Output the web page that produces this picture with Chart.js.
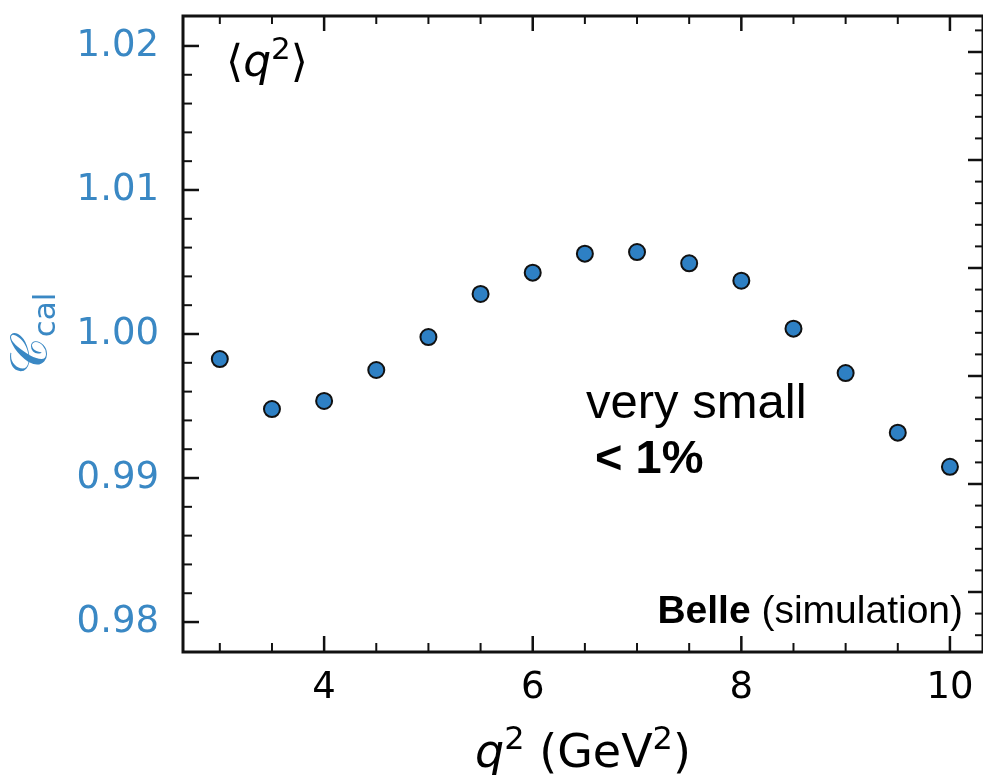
<!DOCTYPE html>
<html>
<head>
<meta charset="utf-8">
<script src="https://cdn.jsdelivr.net/npm/chart.js@4"></script>
<style>
  html, body { margin: 0; padding: 0; background: #fff; }
  #chart { display: block; }
</style>
</head>
<body>
<canvas id="chart" width="983" height="775"></canvas>
<script>
// q^2 bin centres and calibration factor
const q2Values = [3, 3.5, 4, 4.5, 5, 5.5, 6, 6.5, 7, 7.5, 8, 8.5, 9, 9.5, 10];
const cCalValues = [0.99826, 0.99479, 0.99535, 0.99750, 0.99979, 1.00278, 1.00426, 1.00558,
                    1.00569, 1.00491, 1.00370, 1.00037, 0.99729, 0.99315, 0.99078];

const xTicks = [4, 6, 8, 10];
const xTickLabels = ['4', '6', '8', '10'];
const xMinorTicks = [3, 3.5, 4.5, 5, 5.5, 6.5, 7, 7.5, 8.5, 9, 9.5];
const yTicks = [0.98, 0.99, 1.00, 1.01, 1.02];
const yTickLabels = ['0.98', '0.99', '1.00', '1.01', '1.02'];
// right-hand twin axis (its labels are cut off by the frame edge)
const y2Ticks = [0, 1, 2, 3, 4, 5];

const blueText = '#3a88c4';
const markerBlue = '#2e80c4';
const ink = '#111';

// inward ticks on all four sides + the box frame
const frameAndTicks = {
  id: 'frameAndTicks',
  beforeDatasetsDraw(chart) {
    const { ctx, chartArea: a, scales } = chart;
    ctx.save();
    ctx.strokeStyle = ink;
    const seg = (x1, y1, x2, y2, w) => {
      ctx.lineWidth = w;
      ctx.beginPath();
      ctx.moveTo(x1, y1);
      ctx.lineTo(x2, y2);
      ctx.stroke();
    };

    xTicks.forEach(v => {
      const px = scales.x.getPixelForValue(v);
      seg(px, a.bottom, px, a.bottom - 16, 2.5);
      seg(px, a.top, px, a.top + 15, 2.5);
    });
    xMinorTicks.forEach(v => {
      const px = scales.x.getPixelForValue(v);
      seg(px, a.bottom, px, a.bottom - 9, 2);
      seg(px, a.top, px, a.top + 8, 2);
    });

    yTicks.forEach(v => {
      const py = scales.y.getPixelForValue(v);
      seg(a.left, py, a.left + 16, py, 2.5);
    });
    for (let v = 0.978; v < 1.0225; v += 0.002) {
      const r = Math.round(v * 1000) / 1000;
      if (yTicks.some(t => Math.abs(t - r) < 1e-6)) continue;
      const py = scales.y.getPixelForValue(r);
      if (py > a.bottom - 2 || py < a.top + 2) continue;
      seg(a.left, py, a.left + 9, py, 2);
    }

    y2Ticks.forEach(v => {
      const py = scales.y2.getPixelForValue(v);
      seg(a.right, py, a.right - 15, py, 2.5);
    });
    for (let v = -0.4; v < 5.34; v += 0.2) {
      const r = Math.round(v * 10) / 10;
      if (y2Ticks.some(t => Math.abs(t - r) < 1e-6)) continue;
      const py = scales.y2.getPixelForValue(r);
      if (py > a.bottom - 2 || py < a.top + 2) continue;
      seg(a.right, py, a.right - 8, py, 2);
    }

    ctx.lineWidth = 3;
    ctx.strokeRect(a.left, a.top, a.right - a.left, a.bottom - a.top);
    ctx.restore();
  }
};

// axis titles and the text notes
const textNotes = {
  id: 'textNotes',
  afterDraw(chart) {
    const { ctx, chartArea: a } = chart;
    ctx.save();
    ctx.textBaseline = 'alphabetic';
    ctx.textAlign = 'left';

    // runs of [text, font, dy]
    const drawRuns = (runs, x, y) => {
      let cx = x;
      runs.forEach(([t, f, dy]) => {
        ctx.font = f;
        ctx.fillText(t, cx, y + (dy || 0));
        cx += ctx.measureText(t).width;
      });
    };
    const runsWidth = runs => runs.reduce((w, [t, f]) => { ctx.font = f; return w + ctx.measureText(t).width; }, 0);

    // x-axis title
    ctx.fillStyle = '#000';
    const xRuns = [
      ['q', 'italic 46px "DejaVu Sans"', 0],
      ['2', '32px "DejaVu Sans"', -18],
      [' (GeV', '46px "DejaVu Sans"', 0],
      ['2', '32px "DejaVu Sans"', -18],
      [')', '46px "DejaVu Sans"', 0]
    ];
    const xw = runsWidth(xRuns);
    drawRuns(xRuns, (a.left + a.right) / 2 - xw / 2, 767);

    // y-axis title, rotated
    ctx.save();
    ctx.translate(47, (a.top + a.bottom) / 2);
    ctx.rotate(-Math.PI / 2);
    ctx.fillStyle = blueText;
    const yRuns = [
      ['\u{1D49E}', '52px "DejaVu Sans"', 0],
      ['cal', '31px "DejaVu Sans"', 8]
    ];
    drawRuns(yRuns, -runsWidth(yRuns) / 2, 0);
    ctx.restore();

    // <q^2> label
    ctx.fillStyle = '#000';
    drawRuns([
      ['\u27E8', '44px "DejaVu Sans"', 0],
      ['q', 'italic 44px "DejaVu Sans"', 0],
      ['2', '31px "DejaVu Sans"', -17],
      ['\u27E9', '44px "DejaVu Sans"', 0]
    ], 226, 76);

    // note
    ctx.font = '49px "Liberation Sans"';
    ctx.fillText('very small', 586, 418);
    ctx.font = 'bold 47px "Liberation Sans"';
    ctx.fillText('< 1%', 595, 473);

    // experiment tag, right aligned
    const tagRuns = [
      ['Belle', 'bold 39px "Liberation Sans"', 0],
      [' (simulation)', '39px "Liberation Sans"', 0]
    ];
    drawRuns(tagRuns, 963 - runsWidth(tagRuns), 623);
    ctx.restore();
  }
};

const ctx = document.getElementById('chart').getContext('2d');
new Chart(ctx, {
  type: 'scatter',
  data: {
    datasets: [{
      label: 'C_cal',
      data: q2Values.map((q, i) => ({ x: q, y: cCalValues[i] })),
      backgroundColor: markerBlue,
      borderColor: ink,
      borderWidth: 2,
      pointRadius: 8,
      pointHoverRadius: 8
    }]
  },
  options: {
    responsive: false,
    animation: false,
    devicePixelRatio: 1,
    layout: { autoPadding: false, padding: { top: 16, right: 0, bottom: 0, left: 0 } },
    plugins: {
      legend: { display: false },
      tooltip: { enabled: false }
    },
    scales: {
      x: {
        type: 'linear',
        min: 2.647,
        max: 10.317,
        grid: { display: false, drawTicks: false },
        border: { display: false },
        afterBuildTicks: s => { s.ticks = xTicks.map(v => ({ value: v })); },
        afterFit: s => { s.height = 123; s.paddingLeft = 0; s.paddingRight = 0; },
        ticks: {
          padding: 14,
          color: '#000',
          font: { family: 'DejaVu Sans', size: 37 },
          callback: v => xTickLabels[xTicks.indexOf(v)]
        }
      },
      y: {
        type: 'linear',
        min: 0.97792,
        max: 1.02208,
        grid: { display: false, drawTicks: false },
        border: { display: false },
        afterBuildTicks: s => { s.ticks = yTicks.map(v => ({ value: v })); },
        afterFit: s => { s.width = 183; s.paddingTop = 0; s.paddingBottom = 0; },
        ticks: {
          padding: 24,
          color: blueText,
          font: { family: 'DejaVu Sans', size: 37 },
          callback: v => yTickLabels[yTicks.findIndex(t => Math.abs(t - v) < 1e-9)]
        }
      },
      y2: {
        type: 'linear',
        position: 'right',
        display: false,
        min: -0.5556,
        max: 5.3333
      }
    }
  },
  plugins: [frameAndTicks, textNotes]
});
</script>
</body>
</html>
